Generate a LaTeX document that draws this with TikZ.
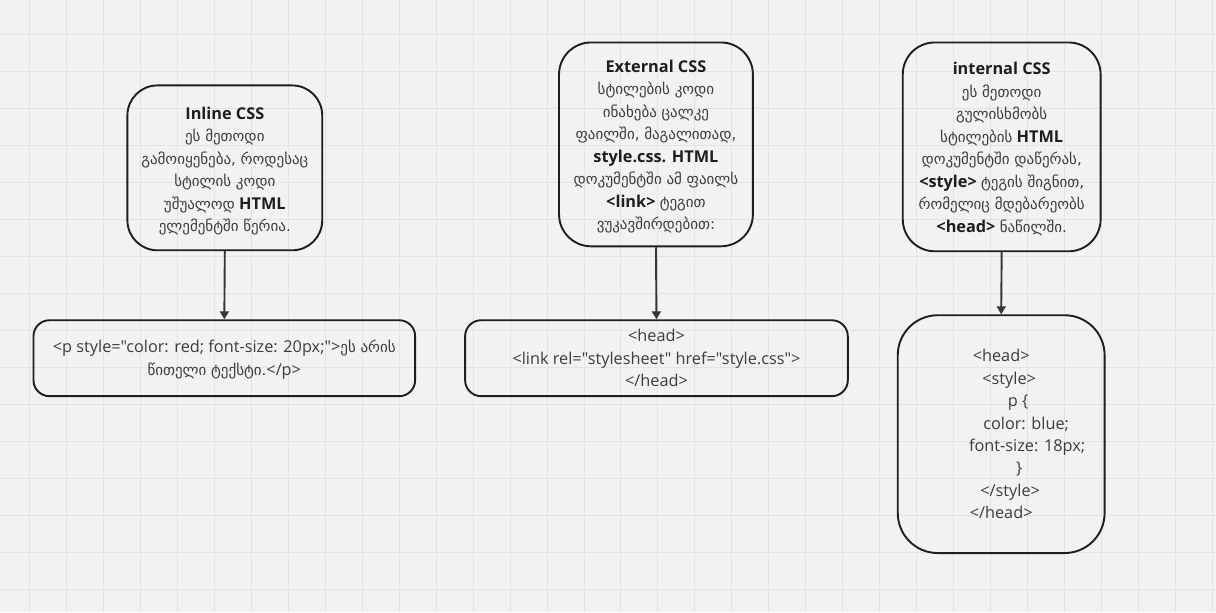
\documentclass[tikz,border=0pt]{standalone}
\usepackage{fontspec}
\setmainfont{Open Sans}[Ligatures=TeXOff]
\newfontfamily\geo{DejaVu Sans}[Scale=0.92]
\usetikzlibrary{arrows.meta}
\definecolor{bg}{HTML}{F2F2F2}
\definecolor{gridc}{HTML}{E3E3E3}
\definecolor{ink}{HTML}{1E1E1E}
\definecolor{txt}{HTML}{3C3C3C}
\definecolor{wire}{HTML}{363636}
% Georgian runs
\newcommand\ka[1]{{\geo #1}}
% bold Latin runs
\newcommand\bt[1]{\textcolor{ink}{\textbf{#1}}}
\tikzset{
  card/.style={draw=ink, line width=1.9pt, inner sep=0pt},
  words/.style={align=center, text=txt, font=\fontsize{16.3}{22.5}\selectfont, inner sep=0pt},
  link/.style={draw=wire, line width=1.9pt, -{Triangle[width=9pt,length=8pt]}}
}
\begin{document}
\begin{tikzpicture}[x=1pt,y=-1pt]
\fill[bg] (0,0) rectangle (1216,612);
\foreach \x in {29,66,...,1216} \draw[gridc, line width=1pt] (\x,0) -- (\x,612);
\foreach \y in {34,71,...,612} \draw[gridc, line width=1pt] (0,\y) -- (1216,\y);
\useasboundingbox (0,0) rectangle (1216,612);

% method descriptions
\node[card, rounded corners=30pt, minimum width=195pt, minimum height=165pt] (inl) at (224.5,167.5) {};
\node[words] (inltext) at ([yshift=-3pt]inl.center)
  {\bt{Inline CSS}\\ \ka{ეს მეთოდი}\\ \ka{გამოიყენება, როდესაც}\\ \ka{სტილის კოდი}\\ \ka{უშუალოდ} \bt{HTML}\\ \ka{ელემენტში წერია.}};
\node[card, rounded corners=32pt, minimum width=194pt, minimum height=204pt] (ext) at (656,144) {};
\node[words] (exttext) at ([yshift=-2pt]ext.center)
  {\bt{External CSS}\\ \ka{სტილების კოდი}\\ \ka{ინახება ცალკე}\\ \ka{ფაილში, მაგალითად,}\\ \bt{style.css. HTML}\\ \ka{დოკუმენტში ამ ფაილს}\\ \bt{<link>} \ka{ტეგით}\\ \ka{ვუკავშირდებით:}};
\node[card, rounded corners=32pt, minimum width=198pt, minimum height=209pt] (int) at (1002,146.5) {};
\node[words] (inttext) at ([yshift=-2pt]int.center)
  {\bt{internal CSS}\\ \ka{ეს მეთოდი}\\ \ka{გულისხმობს}\\ \ka{სტილების} \bt{HTML}\\ \ka{დოკუმენტში დაწერას,}\\ \bt{<style>} \ka{ტეგის შიგნით,}\\ \ka{რომელიც მდებარეობს}\\ \bt{<head>} \ka{ნაწილში.}};

% code examples
\node[card, rounded corners=16pt, minimum width=382pt, minimum height=76pt] (inlcode) at (224,358) {};
\node[words] (inlcodetext) at ([yshift=-1.5pt]inlcode.center)
  {<p style="color: red; font-size: 20px;">\ka{ეს არის}\\ \ka{წითელი ტექსტი.}</p>};
\node[card, rounded corners=16pt, minimum width=383pt, minimum height=76pt] (extcode) at (656.5,358) {};
\node[words] (extcodetext) at (extcode.center)
  {<head>\\ <link rel="stylesheet" href="style.css">\\ </head>};
\node[card, rounded corners=40pt, minimum width=207pt, minimum height=238pt] (intcode) at (1001.5,434) {};
\node[words] (intcodetext) at (intcode.center)
  {<head>\\ \hspace*{16pt}<style>\\ \hspace*{34pt}p \{\\ \hspace*{50pt}color: blue;\\ \hspace*{52pt}font-size: 18px;\\ \hspace*{36pt}\}\\ \hspace*{18pt}</style>\\ </head>};

% connectors
\draw[link] (inl.south) -- (inlcode.north);
\draw[link] (ext.south) -- (extcode.north);
\draw[link] (int.south) -- (intcode.north);
\end{tikzpicture}
\end{document}
